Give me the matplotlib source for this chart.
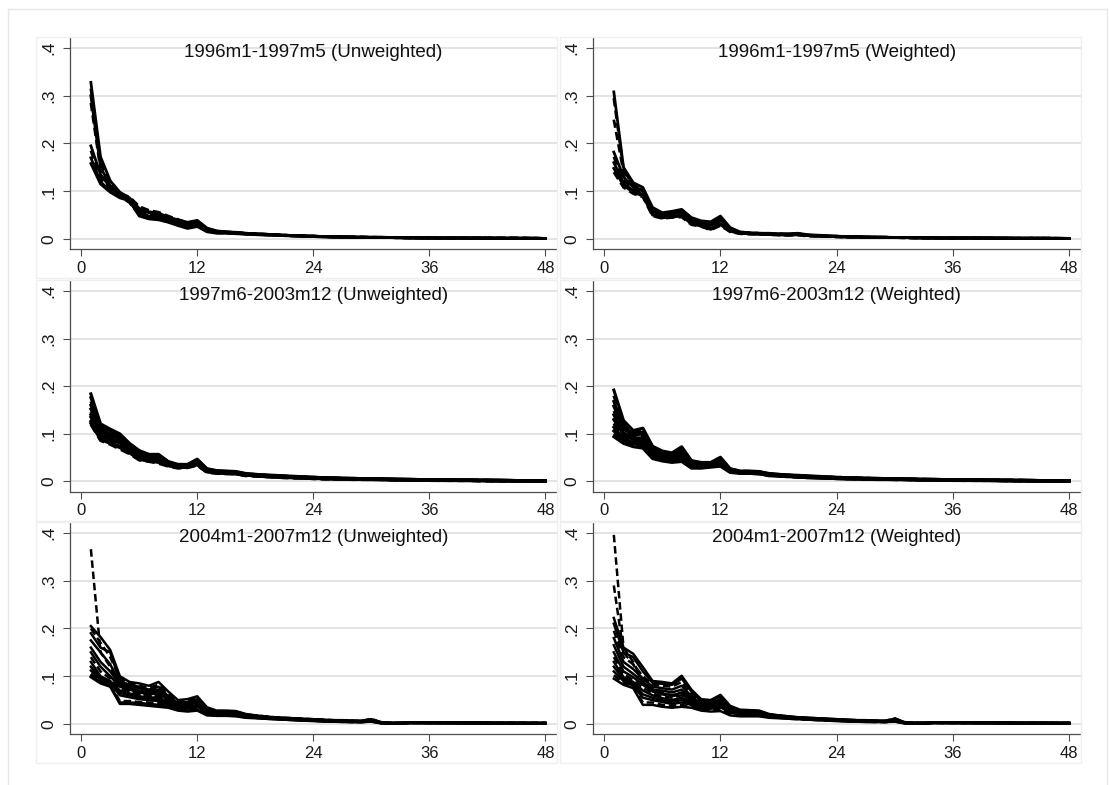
import matplotlib
matplotlib.use('Agg')
import matplotlib.pyplot as plt
from matplotlib.transforms import offset_copy
from matplotlib.patches import Rectangle
from matplotlib.lines import Line2D

# ---------------- data (hazard values in thousandths, months 1..48) ----------------
months = list(range(1, 49))
x_ticks = [0, 12, 24, 36, 48]
y_ticks = [0, 0.1, 0.2, 0.3, 0.4]
y_tick_labels = ['0', '.1', '.2', '.3', '.4']
titles = ['1996m1-1997m5 (Unweighted)', '1996m1-1997m5 (Weighted)',
          '1997m6-2003m12 (Unweighted)', '1997m6-2003m12 (Weighted)',
          '2004m1-2007m12 (Unweighted)', '2004m1-2007m12 (Weighted)']

unw_1996 = [
    [328,172,122,98,86,64,57,54,46,40,35,39, 23,17,15,14,12,11,10,9,8,7,7,6, 5,5,5,4,4,4,4,3,3,3,3,3, 2,2,2,2,2,2,2,2,2,2,2,1],
    [315,160,115,95,88,68,60,56,48,41,34,37, 22,16,15,14,12,11,10,9,8,7,6,6, 5,5,4,4,4,4,3,3,3,3,3,2, 2,2,2,2,2,2,2,2,2,2,1,1],
    [300,150,112,92,80,60,55,50,44,37,32,36, 21,16,14,13,12,11,10,9,8,7,6,6, 5,5,4,4,4,3,3,3,3,3,2,2, 2,2,2,2,2,2,2,2,2,1,2,1],
    [285,145,108,94,84,58,50,48,42,36,30,33, 20,15,14,13,11,10,9,9,8,7,6,6, 5,5,4,4,4,3,3,3,3,3,2,2, 2,2,2,2,2,2,2,2,2,2,1,1],
    [195,135,108,92,78,52,45,44,38,32,26,30, 18,14,13,12,11,10,9,8,7,7,6,5, 5,4,4,4,3,3,3,3,3,2,2,2, 2,2,2,2,2,2,2,1,1,1,1,1],
    [185,128,104,90,76,50,44,42,36,30,24,28, 17,13,12,12,10,10,9,8,7,6,6,5, 5,4,4,4,3,3,3,3,2,2,2,2, 2,2,2,2,2,2,1,1,1,1,1,1],
    [170,120,100,88,82,55,48,46,40,33,27,32, 19,15,13,12,11,10,9,8,7,7,6,5, 5,4,4,4,3,3,3,3,3,2,2,2, 2,2,2,2,2,1,1,1,1,1,1,1],
    [158,115,98,86,80,48,42,40,35,28,22,26, 15,12,12,11,10,9,8,8,7,6,6,5, 4,4,4,3,3,3,3,3,2,2,2,2, 2,2,2,1,1,1,1,1,1,1,1,1],
]
wtd_1996 = [
    [308,150,118,108,66,55,58,62,45,38,36,48, 24,15,13,12,12,11,11,12,9,8,7,6, 5,5,4,4,4,3,3,3,3,3,2,2, 2,2,2,2,2,2,2,2,2,2,2,1],
    [295,145,112,104,62,52,56,60,42,36,33,44, 22,14,13,12,11,11,10,11,8,7,6,6, 5,5,4,4,4,3,3,3,3,2,2,2, 2,2,2,2,2,2,2,2,2,2,1,1],
    [250,140,110,102,60,50,54,58,40,34,30,42, 21,14,12,12,11,10,10,11,8,7,6,5, 5,4,4,4,3,3,3,3,3,2,2,2, 2,2,2,2,2,2,2,2,2,1,1,1],
    [182,130,108,100,58,48,52,56,38,32,28,40, 20,13,12,11,10,10,9,10,8,7,6,5, 5,4,4,4,3,3,3,3,2,2,2,2, 2,2,2,2,2,2,1,1,1,1,1,1],
    [172,122,104,96,54,46,50,54,36,30,26,36, 18,13,12,11,10,9,9,10,7,6,6,5, 4,4,4,3,3,3,3,3,2,2,2,2, 2,2,2,2,2,1,1,1,1,1,1,1],
    [160,118,100,94,52,44,48,50,34,28,22,32, 17,12,11,10,10,9,8,9,7,6,5,5, 4,4,4,3,3,3,3,2,2,2,2,2, 2,2,2,2,1,1,1,1,1,1,1,1],
    [148,112,98,90,50,45,46,48,32,27,20,30, 16,12,11,10,9,9,8,9,7,6,5,5, 4,4,3,3,3,3,3,2,2,2,2,2, 2,2,2,1,1,1,1,1,1,1,1,1],
    [140,108,95,88,48,43,45,46,30,26,19,28, 15,11,10,10,9,8,8,8,6,6,5,4, 4,4,3,3,3,3,2,2,2,2,2,2, 2,2,1,1,1,1,1,1,1,1,1,1],
]
unw_1997 = [
    [184,121,110,100,80,65,57,57,42,36,36,47, 27,23,22,21,17,15,14,13,12,11,10,9, 8,8,7,7,6,6,6,5,5,5,4,4, 4,4,3,3,3,3,3,3,2,2,2,2],
    [176,117,106,98,78,63,55,55,41,35,35,45, 26,22,21,20,16,15,13,12,11,10,9,9, 8,7,7,6,6,6,5,5,5,4,4,4, 4,3,3,3,3,3,3,2,2,2,2,2],
    [168,112,103,96,76,61,53,53,40,34,34,43, 25,21,20,19,16,14,13,12,11,10,9,8, 8,7,7,6,6,5,5,5,4,4,4,4, 3,3,3,3,3,3,2,2,2,2,2,2],
    [160,108,100,93,74,59,51,51,39,33,33,42, 24,21,20,19,15,14,13,12,11,10,9,8, 7,7,6,6,6,5,5,5,4,4,4,4, 3,3,3,3,3,2,2,2,2,2,2,2],
    [152,104,97,90,72,57,50,50,38,33,33,41, 24,20,19,18,15,14,12,11,10,9,9,8, 7,7,6,6,5,5,5,4,4,4,4,3, 3,3,3,3,2,2,2,2,2,2,2,1],
    [146,101,94,87,70,56,49,48,37,32,32,40, 23,20,19,18,15,13,12,11,10,9,8,8, 7,6,6,6,5,5,5,4,4,4,3,3, 3,3,3,3,2,2,2,2,2,2,1,1],
    [140,98,91,84,68,54,47,47,36,32,32,39, 23,19,18,17,14,13,12,11,10,9,8,7, 7,6,6,5,5,5,4,4,4,4,3,3, 3,3,3,2,2,2,2,2,2,1,1,1],
    [135,95,88,81,66,52,46,45,35,31,31,38, 22,19,18,17,14,13,11,10,9,9,8,7, 6,6,6,5,5,5,4,4,4,3,3,3, 3,3,2,2,2,2,2,2,1,1,1,1],
    [130,92,85,78,64,50,45,44,35,31,31,37, 22,19,18,17,14,12,11,10,9,8,8,7, 6,6,5,5,5,4,4,4,4,3,3,3, 3,3,2,2,2,2,2,1,1,1,1,1],
    [126,90,82,74,62,48,44,42,34,30,30,36, 21,18,17,16,13,12,11,10,9,8,7,7, 6,6,5,5,5,4,4,4,3,3,3,3, 3,2,2,2,2,2,1,1,1,1,1,1],
    [122,88,80,71,60,46,43,40,33,29,30,35, 20,18,17,16,13,12,10,9,8,8,7,6, 6,5,5,5,4,4,4,3,3,3,3,3, 2,2,2,2,2,1,1,1,1,1,1,1],
    [120,86,78,68,58,45,42,38,32,28,29,34, 19,17,16,16,12,11,10,9,8,7,7,6, 5,5,5,4,4,4,4,3,3,3,3,2, 2,2,2,2,1,1,1,1,1,1,1,1],
]
wtd_1997 = [
    [192,128,107,112,74,64,60,73,44,40,40,51, 27,22,22,21,17,15,14,13,12,11,10,9, 8,8,7,7,6,6,6,5,5,5,4,4, 4,4,3,3,3,3,3,3,2,2,2,2],
    [180,122,103,108,72,62,58,70,43,39,39,49, 26,22,21,20,16,15,13,12,11,10,9,9, 8,7,7,6,6,6,5,5,5,4,4,4, 4,3,3,3,3,3,3,2,2,2,2,2],
    [168,116,100,104,70,60,56,66,42,38,38,47, 25,21,21,20,16,14,13,12,11,10,9,8, 8,7,7,6,6,5,5,5,4,4,4,4, 3,3,3,3,3,3,2,2,2,2,2,2],
    [158,110,97,100,68,58,54,63,41,37,37,45, 24,21,20,19,15,14,13,12,11,10,9,8, 7,7,6,6,6,5,5,5,4,4,4,4, 3,3,3,3,3,2,2,2,2,2,2,2],
    [148,106,94,96,65,56,52,60,40,36,36,44, 24,20,20,19,15,14,12,11,10,9,9,8, 7,7,6,6,5,5,5,4,4,4,4,3, 3,3,3,3,2,2,2,2,2,2,2,1],
    [140,102,91,92,62,54,51,57,38,35,35,42, 23,20,19,18,15,13,12,11,10,9,8,8, 7,6,6,6,5,5,5,4,4,4,3,3, 3,3,3,3,2,2,2,2,2,2,1,1],
    [130,98,88,88,60,52,49,54,37,34,34,41, 23,19,19,18,14,13,12,11,10,9,8,7, 7,6,6,5,5,5,4,4,4,4,3,3, 3,3,3,2,2,2,2,2,2,1,1,1],
    [122,94,85,84,57,50,47,52,35,33,33,40, 22,19,18,17,14,13,11,10,9,9,8,7, 6,6,6,5,5,5,4,4,4,3,3,3, 3,3,2,2,2,2,2,2,1,1,1,1],
    [114,90,82,80,54,48,45,50,34,32,33,38, 22,19,18,17,14,12,11,10,9,8,8,7, 6,6,5,5,5,4,4,4,4,3,3,3, 3,3,2,2,2,2,2,1,1,1,1,1],
    [106,86,79,76,52,46,43,48,32,30,32,36, 21,18,18,17,13,12,11,10,9,8,7,7, 6,6,5,5,5,4,4,4,3,3,3,3, 3,2,2,2,2,2,1,1,1,1,1,1],
    [100,83,76,73,50,45,42,45,30,29,31,34, 20,18,17,16,13,12,10,9,8,8,7,6, 6,5,5,5,4,4,4,3,3,3,3,3, 2,2,2,2,2,1,1,1,1,1,1,1],
    [94,80,73,70,48,43,40,42,28,28,30,32, 19,17,17,16,12,11,10,9,8,7,7,6, 5,5,5,4,4,4,4,3,3,3,3,2, 2,2,2,2,1,1,1,1,1,1,1,1],
]
unw_2004 = [
    [366,150,120,80,70,62,58,60,48,40,42,48, 30,26,26,24,19,17,15,13,12,11,10,9, 8,7,6,6,6,11,3,2,2,3,3,3, 3,3,3,3,3,2,2,2,2,2,2,2],
    [205,182,155,100,88,85,80,88,68,50,52,58, 35,28,28,27,21,18,16,14,13,12,11,10, 9,8,8,7,7,10,4,2,2,3,3,3, 3,3,3,3,3,3,2,2,2,2,2,2],
    [200,170,140,95,85,80,76,82,62,46,48,55, 33,27,27,26,20,18,16,14,13,12,11,10, 9,8,7,7,6,9,3,2,2,3,3,3, 3,3,3,3,2,2,2,2,2,2,2,2],
    [190,160,150,90,82,78,72,78,58,44,46,52, 31,26,26,25,20,17,15,13,12,11,10,9, 8,8,7,6,6,9,3,2,2,3,3,3, 3,3,3,2,2,2,2,2,2,2,2,2],
    [175,150,125,85,80,75,70,72,55,42,44,50, 30,25,25,24,19,17,15,13,12,11,10,9, 8,7,7,6,6,8,3,2,2,3,3,3, 3,3,2,2,2,2,2,2,2,2,2,2],
    [160,130,110,82,76,70,66,68,52,40,42,48, 29,24,24,23,18,16,14,13,12,11,10,9, 8,7,6,6,5,8,3,2,2,3,3,3, 3,2,2,2,2,2,2,2,2,2,2,2],
    [150,120,100,78,72,66,62,64,50,38,40,45, 28,24,24,22,18,16,14,12,11,10,9,8, 7,7,6,6,5,7,3,2,2,3,3,3, 2,2,2,2,2,2,2,2,2,2,2,2],
    [140,110,95,75,68,62,58,60,48,36,38,42, 27,23,23,22,17,15,13,12,11,10,9,8, 7,6,6,5,5,7,2,2,2,3,3,2, 2,2,2,2,2,2,2,2,2,2,2,2],
    [130,100,90,70,64,58,55,56,45,34,36,40, 26,22,22,21,17,15,13,12,11,10,9,8, 7,6,6,5,5,7,2,2,2,3,2,2, 2,2,2,2,2,2,2,2,2,2,2,1],
    [120,95,88,65,60,55,52,52,42,33,34,38, 25,21,21,20,16,14,13,11,10,9,8,8, 7,6,5,5,5,6,2,1,1,2,2,2, 2,2,2,2,2,2,2,2,2,2,1,1],
    [112,92,85,60,56,52,50,48,40,32,32,36, 24,20,20,19,15,14,12,11,10,9,8,7, 6,6,5,5,4,6,2,1,1,2,2,2, 2,2,2,2,2,2,2,2,2,1,1,1],
    [105,90,82,48,48,46,45,44,38,30,30,33, 22,19,19,18,15,13,12,11,10,9,8,7, 6,5,5,4,4,6,2,1,1,2,2,2, 2,2,2,2,2,2,2,1,1,1,1,1],
    [100,88,80,45,45,44,42,40,36,30,28,30, 20,18,18,17,14,13,11,10,9,8,7,7, 6,5,5,4,4,5,2,1,1,2,2,2, 2,2,2,2,2,2,1,1,1,1,1,1],
    [98,85,78,42,42,40,38,36,34,28,26,28, 18,17,17,16,13,12,11,10,9,8,7,6, 5,5,4,4,4,5,1,1,1,2,2,2, 2,2,2,2,2,1,1,1,1,1,1,1],
]
wtd_2004 = [
    [396,160,130,90,75,65,60,66,50,40,42,50, 30,26,25,24,19,17,15,13,12,11,10,9, 8,7,6,6,6,12,3,2,2,3,3,3, 3,3,3,3,3,2,2,2,2,2,2,2],
    [290,150,125,85,72,62,58,62,48,38,40,46, 29,25,24,23,18,16,14,13,12,11,10,9, 8,7,6,6,5,9,3,2,2,3,3,3, 3,3,3,3,2,2,2,2,2,2,2,2],
    [222,160,147,119,90,88,85,101,72,52,50,61, 38,30,29,28,21,18,16,14,13,12,11,10, 9,8,8,7,7,11,4,2,2,3,3,3, 3,3,3,3,3,3,2,2,2,2,2,2],
    [210,150,140,110,86,84,82,95,68,48,48,58, 35,28,28,27,20,18,16,14,13,12,11,10, 9,8,7,7,6,10,3,2,2,3,3,3, 3,3,3,3,3,2,2,2,2,2,2,2],
    [195,140,125,100,82,80,78,88,62,45,46,55, 33,27,27,26,20,17,15,13,12,11,10,9, 8,8,7,6,6,9,3,2,2,3,3,3, 3,3,3,2,2,2,2,2,2,2,2,2],
    [180,130,115,95,78,75,72,80,58,43,44,52, 31,26,26,25,19,17,15,13,12,11,10,9, 8,7,7,6,6,8,3,2,2,3,3,3, 3,3,2,2,2,2,2,2,2,2,2,2],
    [165,120,105,88,72,70,66,72,55,41,42,48, 30,25,25,24,19,16,14,13,12,11,10,9, 8,7,6,6,5,8,3,2,2,3,3,3, 3,2,2,2,2,2,2,2,2,2,2,2],
    [150,110,98,82,68,64,60,65,52,39,40,45, 28,24,24,23,18,16,14,12,11,10,9,8, 7,7,6,6,5,7,3,2,2,3,3,3, 2,2,2,2,2,2,2,2,2,2,2,2],
    [140,104,92,76,64,58,55,60,48,37,38,42, 27,23,23,22,17,15,13,12,11,10,9,8, 7,6,6,5,5,7,2,2,2,3,3,2, 2,2,2,2,2,2,2,2,2,2,2,2],
    [130,98,88,70,60,54,50,55,45,35,36,40, 26,22,22,21,17,15,13,12,11,10,9,8, 7,6,6,5,5,7,2,2,2,3,2,2, 2,2,2,2,2,2,2,2,2,2,2,1],
    [120,94,84,62,55,50,46,50,42,34,34,38, 25,21,21,20,16,14,13,11,10,9,8,8, 7,6,5,5,5,6,2,1,1,2,2,2, 2,2,2,2,2,2,2,2,2,2,1,1],
    [110,90,80,55,50,46,42,45,40,32,32,35, 24,20,20,19,15,14,12,11,10,9,8,7, 6,6,5,5,4,6,2,1,1,2,2,2, 2,2,2,2,2,2,2,2,2,1,1,1],
    [102,86,78,45,45,40,38,40,36,30,29,31, 21,18,18,17,14,13,11,10,9,8,7,7, 6,5,5,4,4,5,2,1,1,2,2,2, 2,2,2,2,2,2,1,1,1,1,1,1],
    [95,82,75,40,40,36,34,36,34,28,26,27, 18,16,16,16,13,12,11,10,9,8,7,6, 5,5,4,4,4,5,1,1,1,2,2,2, 2,2,2,2,2,1,1,1,1,1,1,1],
]

panels = [unw_1996, wtd_1996, unw_1997, wtd_1997, unw_2004, wtd_2004]

# ---------------- styling / layout ----------------
W, H = 1109, 785
DPI = 100
fig = plt.figure(figsize=(W / DPI, H / DPI), dpi=DPI)
fig.patch.set_facecolor('white')

tick_font = ['Liberation Sans Narrow', 'Liberation Sans']
title_font = ['Liberation Sans', 'DejaVu Sans']

col_left = [69.6, 592.5]
col_right = [557.0, 1081.0]
row_top = [37.0, 280.0, 522.0]
row_bot = [249.0, 491.5, 734.0]

dashed_sets = [{1, 3, 5}, {1, 2, 4, 7}, {2, 5, 8, 11}, {1, 4, 7, 10},
               {0, 2, 7, 11}, {0, 1, 4, 8, 12}]
line_w = [2.0, 2.0, 2.2, 2.2, 1.8, 1.8]

# outer frame
frame_c = '#e8e8e8'
for xs, ys in [([8, 8], [9, H]), ([8, 1107], [9, 9]), ([1107, 1107], [9, H])]:
    fig.add_artist(Line2D([x / W for x in xs], [1 - y / H for y in ys],
                          transform=fig.transFigure, color=frame_c, lw=1.0))

for i, data in enumerate(panels):
    r, c = divmod(i, 2)
    l, rt, t, b = col_left[c], col_right[c], row_top[r], row_bot[r]
    # cell box
    cl = l - 34.0 if c == 0 else l - 32.5
    fig.add_artist(Rectangle((cl / W, 1 - (b + 29) / H), (rt - cl) / W, (b + 29 - t) / H,
                             transform=fig.transFigure, fill=False,
                             edgecolor='#efefef', lw=1.0))
    ax = fig.add_axes([l / W, 1 - b / H, (rt - l) / W, (b - t) / H])
    ax.set_facecolor('none')
    ax.set_xlim(-1.2, 49.2)
    ax.set_ylim(-0.021, 0.423)
    for yv in y_ticks:
        ax.axhline(yv, color='#e3e3e3', lw=1.4, zorder=1)
    for k, line in enumerate(data):
        vals = [v / 1000.0 for v in line]
        ls = (0, (3.0, 1.5)) if k in dashed_sets[i] else '-'
        ax.plot(months, vals, color='black', lw=line_w[i], ls=ls,
                solid_joinstyle='round', zorder=3)
    for s in ['top', 'right']:
        ax.spines[s].set_visible(False)
    for s in ['left', 'bottom']:
        ax.spines[s].set_color('#4d4d4d')
        ax.spines[s].set_linewidth(0.9)
    ax.set_xticks(x_ticks)
    ax.set_xticklabels([str(v) for v in x_ticks])
    ax.set_yticks(y_ticks)
    ax.set_yticklabels(y_tick_labels)
    ax.tick_params(axis='both', direction='out', length=5, width=0.8,
                   color='#4d4d4d', labelcolor='#1a1a1a')
    ax.tick_params(axis='x', pad=3.5)
    ax.tick_params(axis='y', pad=4.5, labelrotation=90)
    for lab in ax.get_xticklabels():
        lab.set_fontfamily(tick_font)
        lab.set_fontsize(12)
    for lab in ax.get_yticklabels():
        lab.set_fontfamily(tick_font)
        lab.set_fontsize(12.5)
        lab.set_verticalalignment('center')
    tr = offset_copy(ax.transAxes, fig=fig, x=0, y=-20, units='dots')
    ax.text(0.5, 1.0, titles[i], transform=tr, ha='center', va='baseline',
            fontsize=13.5, family=title_font, color='#111111', zorder=5)

fig.savefig('out.png', dpi=DPI, facecolor='white')
